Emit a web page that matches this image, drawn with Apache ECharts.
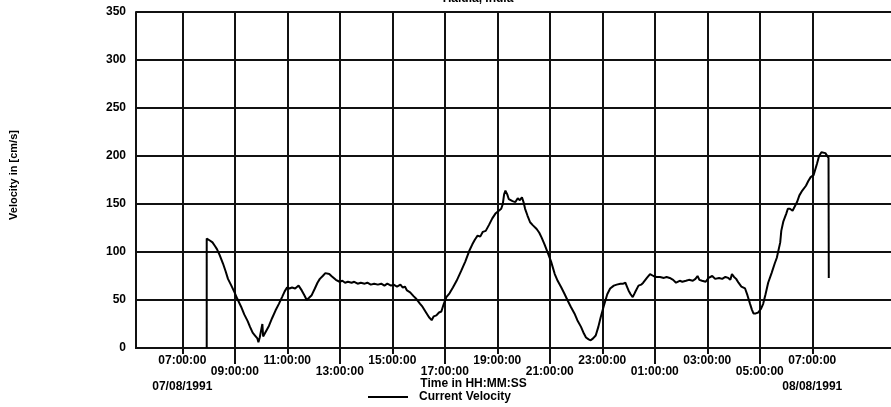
<!DOCTYPE html>
<html>
<head>
<meta charset="utf-8">
<script src="https://cdn.jsdelivr.net/npm/echarts@6/dist/echarts.min.js"></script>
<style>
  html, body { margin: 0; padding: 0; background: #fff; }
  #chart { width: 891px; height: 407px; }
</style>
</head>
<body>
<div id="chart"></div>
<script>
// Current velocity record, Haldia. Time is counted in hours from 00:00 on 07/08/1991.
const hours = [
  7.93, 7.93, 8.00, 8.05, 8.15, 8.25, 8.32, 8.42, 8.55, 8.65, 8.74, 8.85, 8.99, 9.10, 9.24, 9.36,
  9.49, 9.58, 9.68, 9.77, 9.86, 9.90, 9.95, 10.02, 10.05, 10.08, 10.12, 10.20, 10.30, 10.42, 10.55,
  10.68, 10.80, 10.90, 10.99, 11.08, 11.18, 11.30, 11.43, 11.49, 11.55, 11.65, 11.74, 11.82, 11.93,
  12.05, 12.15, 12.24, 12.35, 12.45, 12.52, 12.60, 12.68, 12.74, 12.85, 12.99, 13.10, 13.20, 13.31,
  13.45, 13.55, 13.68, 13.80, 13.95, 14.05, 14.18, 14.31, 14.45, 14.58, 14.70, 14.81, 14.95, 15.05,
  15.18, 15.31, 15.40, 15.48, 15.56, 15.68, 15.81, 15.92, 16.06, 16.15, 16.31, 16.40, 16.50, 16.58,
  16.68, 16.78, 16.87, 16.95, 17.06, 17.18, 17.31, 17.45, 17.62, 17.78, 17.93, 18.05, 18.15, 18.25,
  18.35, 18.45, 18.56, 18.68, 18.81, 18.93, 19.06, 19.15, 19.21, 19.26, 19.31, 19.38, 19.44, 19.50,
  19.58, 19.69, 19.78, 19.86, 19.94, 20.00, 20.06, 20.15, 20.25, 20.35, 20.50, 20.60, 20.69, 20.80,
  20.94, 21.05, 21.19, 21.30, 21.44, 21.55, 21.69, 21.80, 21.94, 22.05, 22.19, 22.30, 22.38, 22.48,
  22.56, 22.65, 22.75, 22.85, 22.94, 23.05, 23.19, 23.30, 23.44, 23.55, 23.69, 23.80, 23.88, 23.94,
  24.00, 24.08, 24.16, 24.25, 24.38, 24.48, 24.56, 24.70, 24.82, 24.95, 25.06, 25.20, 25.35, 25.45,
  25.57, 25.70, 25.81, 25.95, 26.05, 26.19, 26.30, 26.45, 26.55, 26.63, 26.70, 26.80, 26.94, 27.05,
  27.19, 27.30, 27.45, 27.57, 27.69, 27.80, 27.88, 27.94, 28.02, 28.10, 28.19, 28.30, 28.44, 28.53,
  28.63, 28.70, 28.76, 28.85, 28.94, 29.05, 29.13, 29.22, 29.32, 29.45, 29.57, 29.65, 29.72, 29.78,
  29.82, 29.90, 30.01, 30.07, 30.15, 30.25, 30.32, 30.42, 30.51, 30.62, 30.76, 30.85, 30.94, 31.05,
  31.09, 31.18, 31.26, 31.35, 31.42, 31.50, 31.57, 31.62, 31.63
];
const velocity = [
  0, 114, 112, 112, 110, 106, 103, 97, 88, 80, 72, 66, 58, 51, 43, 35,
  28, 22, 16, 13, 10, 6, 11, 9, 25, 12, 13, 18, 23, 31, 39,
  46, 53, 59, 63, 62, 63, 62, 65, 63, 60, 55, 50, 52, 55,
  62, 68, 72, 75, 78, 79, 77, 75, 73, 71, 69, 70, 68, 69,
  68, 69, 67, 68, 67, 68, 66, 67, 66, 67, 65, 67, 65, 66,
  64, 66, 63, 64, 60, 58, 54, 51, 46, 43, 36, 32, 29, 33,
  34, 37, 38, 45, 53, 57, 63, 70, 80, 90, 101, 108, 113, 117,
  116, 121, 122, 128, 135, 140, 143, 145, 150, 160, 164, 160, 155, 157,
  153, 152, 156, 154, 157, 152, 145, 138, 131, 128, 124, 120, 115, 108,
  98, 90, 77, 70, 63, 57, 49, 43, 36, 29, 22, 15, 11, 9,
  8, 10, 13, 22, 32, 43, 56, 62, 65, 66, 67, 67, 68, 64,
  60, 56, 53, 58, 65, 66, 68, 73, 77, 75, 74, 74, 73, 74,
  73, 71, 68, 70, 69, 70, 71, 70, 72, 75, 71, 70, 69, 73,
  75, 72, 73, 72, 74, 73, 71, 77, 74, 72, 68, 64, 62, 55,
  46, 40, 36, 36, 37, 41, 46, 56, 68, 78, 88, 94, 96, 110,
  122, 132, 140, 145, 145, 143, 143, 152, 159, 164, 169, 174, 178, 180,
  182, 192, 200, 204, 206, 203, 201, 198, 73
];

// Time ticks every two hours; labels alternate between two rows.
const upperTicks = [7, 11, 15, 19, 23, 27, 31];
const lowerTicks = [9, 13, 17, 21, 25, 29];
const dateLabels = { 7: '07/08/1991', 31: '08/08/1991' };

const seriesName = 'Current Velocity';
const titleText = 'Haldia, India';
const xName = 'Time in HH:MM:SS';
const yName = 'Velocity in [cm/s]';

const FONT = {
  fontFamily: '"Liberation Sans", Arial, sans-serif',
  fontWeight: 'bold',
  fontSize: 12,
  color: '#000'
};
const INK = '#111';
const X_MIN = 5.236, X_MAX = 34;

function clock(h) {
  const hh = ((Math.round(h) % 24) + 24) % 24;
  return String(hh).padStart(2, '0') + ':00:00';
}

function timeAxis(ticks, tickLen, margin, extra) {
  return Object.assign({
    type: 'value',
    position: 'bottom',
    min: X_MIN,
    max: X_MAX,
    axisLine: { show: true, lineStyle: { color: INK, width: 2 } },
    axisTick: { show: true, customValues: ticks, length: tickLen, lineStyle: { color: INK, width: 2 } },
    axisLabel: {
      customValues: ticks,
      margin: margin,
      ...FONT,
      lineHeight: 12,
      formatter: v => dateLabels[v]
        ? '{t|' + clock(v) + '}\n{d|' + dateLabels[v] + '}'
        : '{t|' + clock(v) + '}',
      rich: {
        t: { ...FONT, lineHeight: 12 },
        d: { ...FONT, lineHeight: 40 }
      }
    },
    splitLine: { show: true, lineStyle: { color: INK, width: 2 } }
  }, extra || {});
}

const chart = echarts.init(document.getElementById('chart'), null, { renderer: 'canvas' });
chart.setOption({
  animation: false,
  backgroundColor: '#fff',
  title: {
    text: titleText,
    left: 478,
    top: -7,
    padding: 0,
    textAlign: 'center',
    textStyle: { ...FONT }
  },
  legend: {
    left: 368,
    top: 391,
    padding: 0,
    icon: 'rect',
    itemWidth: 40,
    itemHeight: 2,
    data: [seriesName],
    textStyle: { ...FONT, padding: [0, 0, 0, 6] }
  },
  grid: { left: 135, top: 12, right: -10, bottom: 59 },
  xAxis: [
    timeAxis(upperTicks, 6, 7),
    timeAxis(lowerTicks, 16, 18, {
      name: xName,
      nameLocation: 'middle',
      nameGap: 30,
      nameMoveOverlap: false,
      nameTextStyle: { ...FONT, padding: [0, 80, 0, 0] }
    })
  ],
  yAxis: {
    type: 'value',
    min: 0,
    max: 350,
    interval: 50,
    axisLine: { show: true, lineStyle: { color: INK, width: 2 } },
    axisTick: { show: false },
    axisLabel: { ...FONT, margin: 10 },
    splitLine: { show: true, lineStyle: { color: INK, width: 2 } },
    name: yName,
    nameLocation: 'middle',
    nameRotate: 90,
    nameGap: 117,
    nameMoveOverlap: false,
    nameTextStyle: { ...FONT, fontSize: 11, padding: [0, 0, 0, 10] }
  },
  series: [{
    name: seriesName,
    type: 'line',
    xAxisIndex: 0,
    data: hours.map((h, i) => [h, velocity[i]]),
    symbol: 'none',
    showSymbol: false,
    lineStyle: { color: '#000', width: 2 },
    itemStyle: { color: '#000' }
  }]
});
</script>
</body>
</html>
